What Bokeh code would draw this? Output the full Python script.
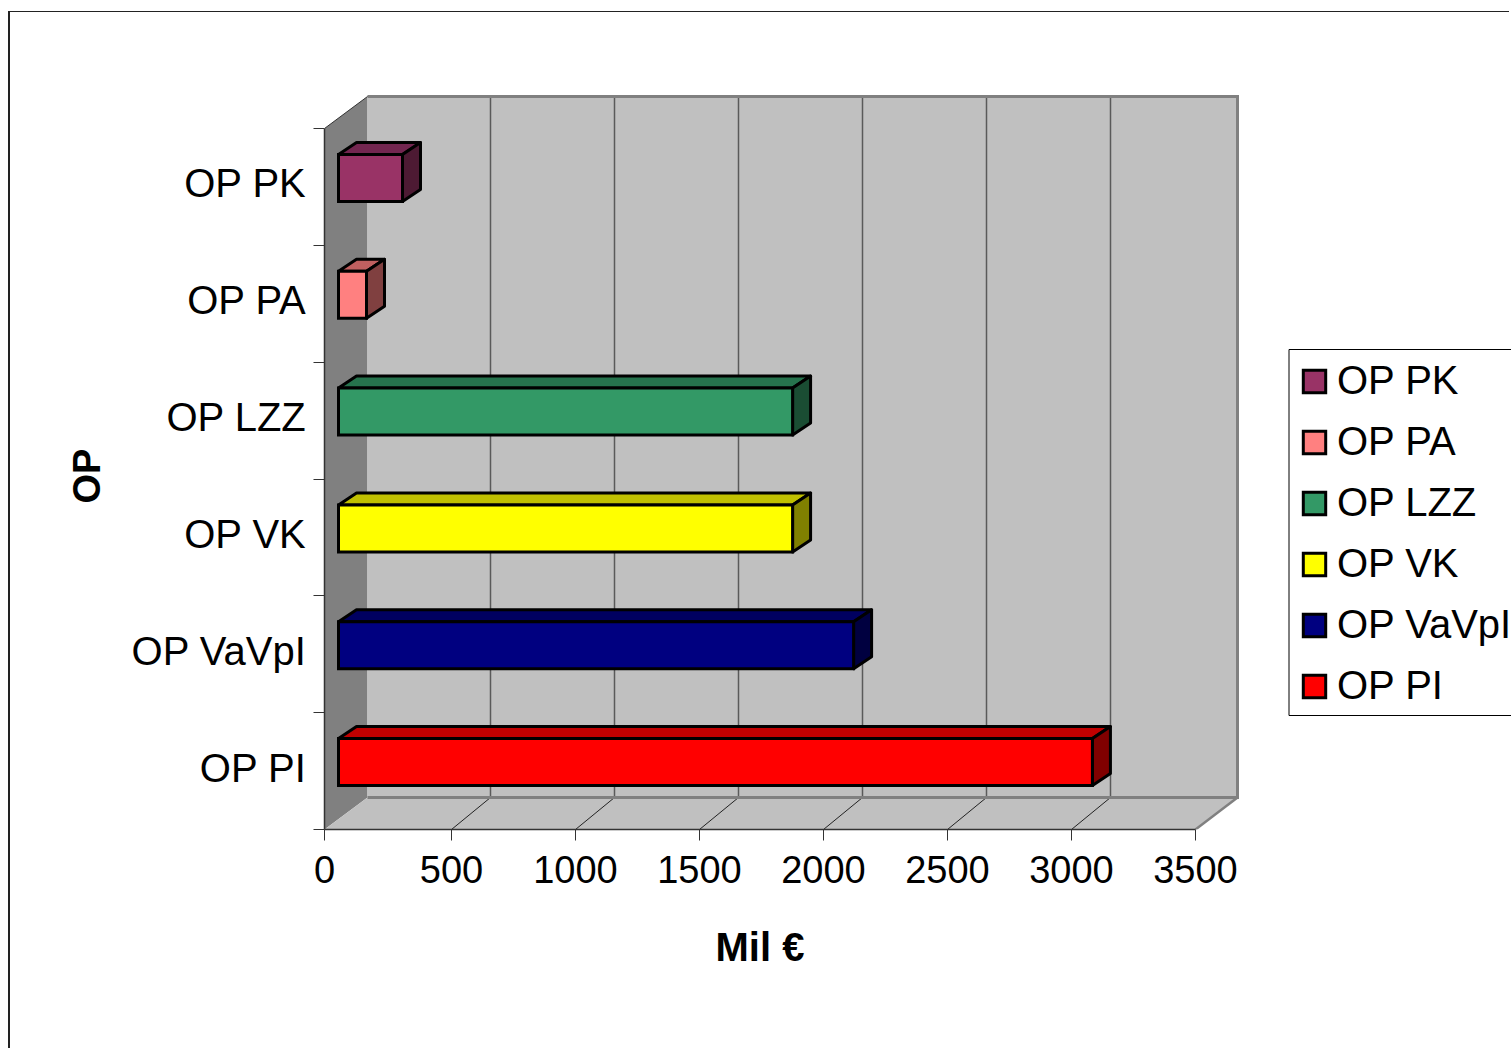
from bokeh.plotting import figure
from bokeh.models import Range1d, FixedTicker, Legend, LegendItem, Title, LinearAxis
from bokeh.embed import file_html
from bokeh.resources import INLINE

# ---- data (top to bottom as in the chart) ----
categories = ["OP PK", "OP PA", "OP LZZ", "OP VK", "OP VaVpI", "OP PI"]
values = [258, 113, 1831, 1831, 2077, 3040]
front_colors = ["#993366", "#FF8080", "#339966", "#FFFF00", "#000080", "#FF0000"]
top_colors = ["#732650", "#C06060", "#26734D", "#C0C000", "#000060", "#C00000"]
side_colors = ["#4D1A33", "#804040", "#1A4D33", "#808000", "#000040", "#800000"]
x_ticks = [0, 500, 1000, 1500, 2000, 2500, 3000, 3500]

# ---- scale and 3-D geometry ----
ORIGIN_X, ORIGIN_Y = 10, 12       # where the figure sits on the page
PAGE_W, PAGE_H = 1511 - ORIGIN_X, 1049 - ORIGIN_Y
LEFT, BOTTOM = 324 - ORIGIN_X, 220  # frame offsets inside the canvas
X_PX = 0.248                      # px per Mil EUR
Y_PX = 701 / 6                    # px per category band
X_MAX = x_ticks[-1]
N = len(categories)
X_START = -3 / X_PX               # the reference's wall begins a little left of its regular tick spacing
X_END = X_START + (PAGE_W - LEFT) / X_PX
DX_LEFT = 43 / X_PX               # chart depth at the left wall
DX_GRID = 39 / X_PX               # depth of the floor lines / back gridlines
DX_RIGHT = 42 / X_PX              # depth at the right wall
DY = 32 / Y_PX
BAR_H = 0.402
BAR_X0 = X_START + 14 / X_PX      # where the bars' front faces begin
BAR_DX = 18 / X_PX                # bar depth
FY0 = 9 / 32
BAR_DY = 12 / Y_PX


def px_x(px):
    return X_START + (px - 324) / X_PX


def px_y(py):
    return (829 - py) / Y_PX


p = figure(width=PAGE_W, height=PAGE_H, output_backend="svg", toolbar_location=None,
           x_range=Range1d(X_START, X_END),
           y_range=Range1d(0, (PAGE_H - BOTTOM) / Y_PX),
           min_border_left=LEFT, min_border_bottom=BOTTOM, min_border_top=0, min_border_right=0,
           x_axis_location=None, y_axis_location=None, tools="",
           margin=(ORIGIN_Y, 0, 0, ORIGIN_X))
p.grid.visible = False
p.outline_line_color = None
p.background_fill_color = "white"
p.border_fill_color = "white"
# chart-area frame: only its left and top edges fall on the page
p.styles = {"box-shadow": "-2px -1px 0 0 #222222"}

# walls
GREY = "#808080"
WALL = "#C0C0C0"
BACK_L = X_START + DX_LEFT
BACK_R = X_MAX + DX_RIGHT
p.patch([X_START, BACK_L, BACK_L, X_START], [0, DY, N + DY, N], fill_color=GREY, line_color=None)
p.patch([BACK_L, BACK_R, BACK_R, BACK_L], [DY, DY, N + DY, N + DY], fill_color=WALL, line_color=None)
p.patch([X_START, X_MAX, BACK_R, BACK_L], [0, 0, DY, DY], fill_color=WALL, line_color=None)

# back-wall gridlines and floor lines
inner = x_ticks[1:-1]
p.segment([v + DX_GRID for v in inner], [DY] * len(inner), [v + DX_GRID for v in inner], [N + DY] * len(inner),
          line_color="#5A5A5A", line_width=1.5)
p.segment(inner, [0] * len(inner), [v + DX_GRID for v in inner], [DY] * len(inner),
          line_color="#222222", line_width=1)

# wall edges
p.line([BACK_L, BACK_R, BACK_R, BACK_L], [N + DY, N + DY, DY, DY], line_color=GREY, line_width=3, line_join="miter")
p.line([X_MAX, BACK_R], [0, DY], line_color=GREY, line_width=2.5)
p.line([X_START, BACK_L], [N, N + DY], line_color="#333333", line_width=1)

# bars
legend_items = []
for i, (cat, v, fc, tc, sc) in enumerate(zip(categories, values, front_colors, top_colors, side_colors)):
    yc = N - i - 0.5 + DY * FY0
    x0 = BAR_X0
    x1 = x0 + v
    y0 = yc - BAR_H / 2
    y1 = yc + BAR_H / 2
    p.patch([x0, x1, x1 + BAR_DX, x0 + BAR_DX], [y1, y1, y1 + BAR_DY, y1 + BAR_DY],
            fill_color=tc, line_color="black", line_width=3, line_join="round")
    p.patch([x1, x1 + BAR_DX, x1 + BAR_DX, x1], [y0, y0 + BAR_DY, y1 + BAR_DY, y1],
            fill_color=sc, line_color="black", line_width=3, line_join="round")
    r = p.quad(left=[x0], right=[x1], bottom=[y0], top=[y1],
               fill_color=fc, line_color="black", line_width=3, line_join="miter")
    legend_items.append(LegendItem(label=cat, renderers=[r]))

# axes
FONT = "Liberation Sans"
TICK_SIZE = "38px"
CAT_SIZE = "40px"
tick_pos = [X_START] + x_ticks[1:]  # "0" is drawn at the wall corner, as in the reference
xaxis = LinearAxis(ticker=FixedTicker(ticks=tick_pos), bounds=(X_START, X_MAX))
xaxis.major_label_overrides = {t: str(v) for t, v in zip(tick_pos, x_ticks)}
xaxis.major_tick_in = 0
xaxis.major_tick_out = 11
xaxis.minor_tick_line_color = None
xaxis.major_tick_line_color = "#333333"
xaxis.axis_line_color = "#333333"
xaxis.axis_line_width = 1.5
xaxis.major_label_text_font = FONT
xaxis.major_label_text_font_size = TICK_SIZE
xaxis.major_label_text_color = "black"
xaxis.major_label_standoff = 15
p.add_layout(xaxis, "below")

LABEL_NUDGE = 0.03  # the category labels sit slightly above their band centres
centers = [N - i - 0.5 + LABEL_NUDGE for i in range(N)]
yaxis = LinearAxis(ticker=FixedTicker(ticks=centers, minor_ticks=list(range(N + 1))), bounds=(0, N))
yaxis.major_label_overrides = {c: t for c, t in zip(centers, categories)}
yaxis.major_tick_line_color = None
yaxis.major_tick_in = 0
yaxis.major_tick_out = 0
yaxis.minor_tick_in = 0
yaxis.minor_tick_out = 11
yaxis.minor_tick_line_color = "#333333"
yaxis.axis_line_color = "#333333"
yaxis.axis_line_width = 1.5
yaxis.major_label_text_font = FONT
yaxis.major_label_text_font_size = CAT_SIZE
yaxis.major_label_text_color = "black"
yaxis.major_label_standoff = 7
yaxis.major_label_orientation = "horizontal"
p.add_layout(yaxis, "left")

# axis titles
p.add_layout(Title(text="Mil €", align="left", offset=391, standoff=74, text_font=FONT,
                   text_font_size=CAT_SIZE, text_font_style="bold", text_color="black"), "below")
p.add_layout(Title(text="OP", align="left", offset=326, standoff=41, text_font=FONT,
                   text_font_size=TICK_SIZE, text_font_style="bold", text_color="black"), "left")

# legend box (runs past the page edge, as in the reference) and legend
p.quad(left=[px_x(1288.5)], right=[X_END + 100], bottom=[px_y(715)], top=[px_y(349)],
       fill_color="white", line_color="black", line_width=1)
legend = Legend(items=legend_items, location=(976, 121), orientation="vertical",
                glyph_width=28, glyph_height=28, label_standoff=9, spacing=16,
                label_text_font=FONT, label_text_font_size=CAT_SIZE, label_text_color="black",
                border_line_color=None, background_fill_alpha=0, margin=0)
p.add_layout(legend, "center")

open("out.html", "w").write(file_html(p, INLINE))
